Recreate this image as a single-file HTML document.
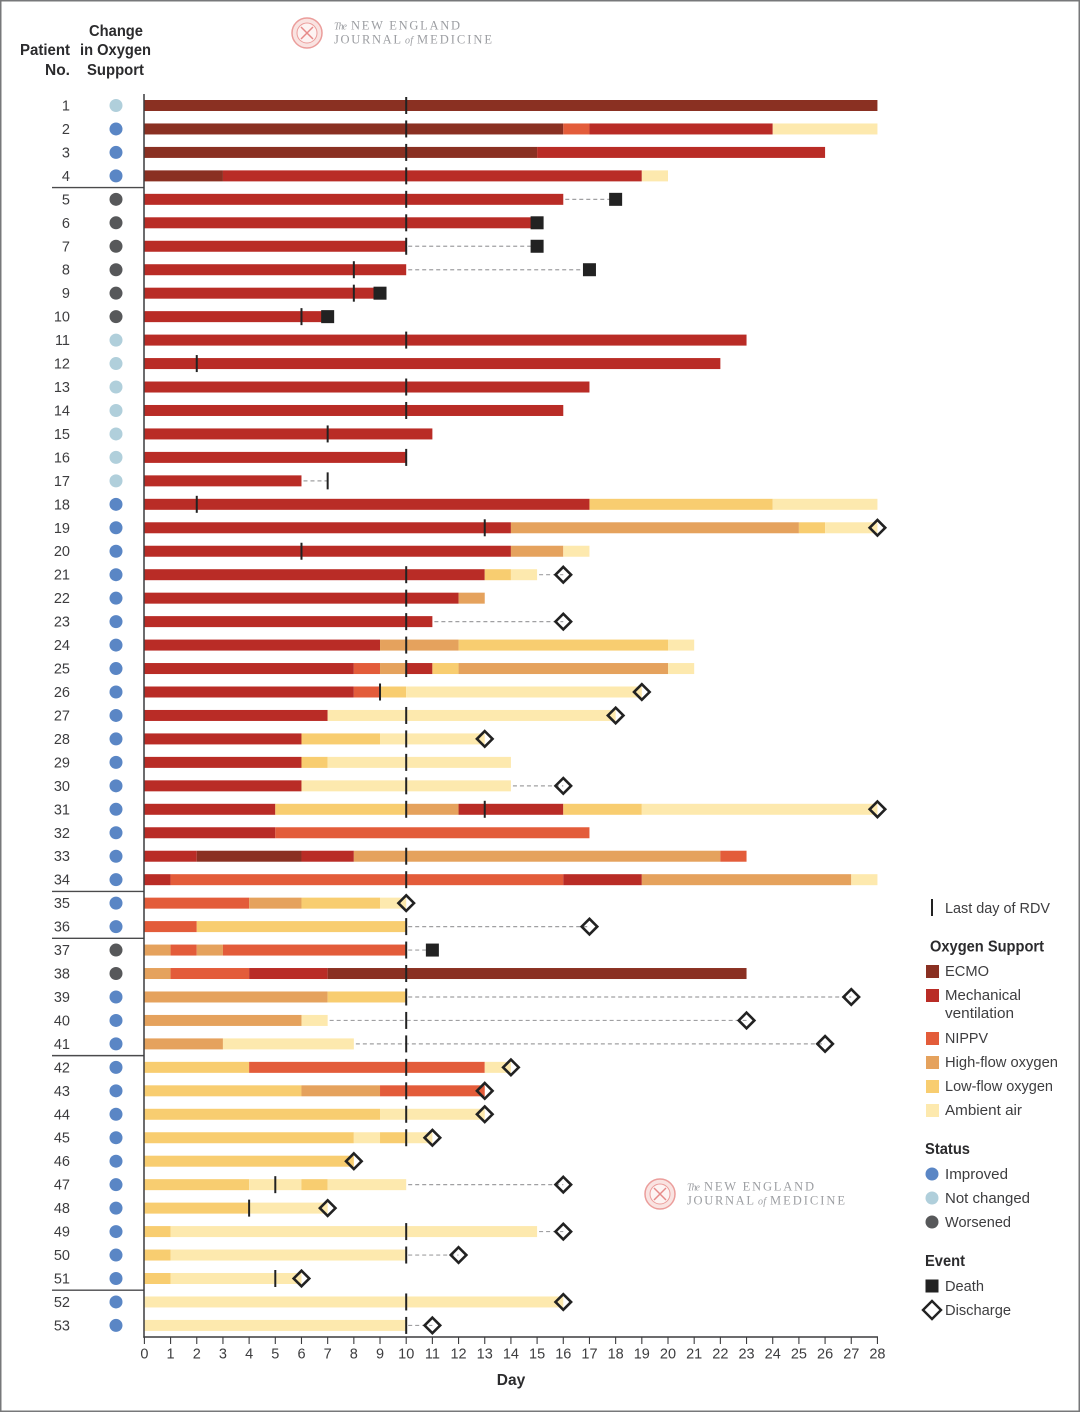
<!DOCTYPE html>
<html lang="en">
<head>
<meta charset="utf-8">
<title>Oxygen support by patient</title>
<style>
html,body{margin:0;padding:0;background:#fff;}
svg{display:block;font-family:"Liberation Sans",sans-serif;}
.lbl{font-size:14.5px;fill:#3d3d3f;}
.hd{font-size:15.5px;font-weight:bold;fill:#2b2b2d;}
.logo{font-family:"Liberation Serif",serif;fill:#9c9ea2;}
</style>
</head>
<body>
<svg id="chart" xmlns="http://www.w3.org/2000/svg" width="1080" height="1412" viewBox="0 0 1080 1412">
  <rect x="0" y="0" width="1080" height="1412" fill="#fff"/>
  <rect x="0.75" y="0.75" width="1078.5" height="1410.5" fill="none" stroke="#77787a" stroke-width="1.5"/>

  <g>
    <text class="hd" x="70" y="55" text-anchor="end" textLength="50" lengthAdjust="spacingAndGlyphs">Patient</text>
    <text class="hd" x="70" y="75" text-anchor="end" textLength="25" lengthAdjust="spacingAndGlyphs">No.</text>
    <text class="hd" x="89" y="36" textLength="54" lengthAdjust="spacingAndGlyphs">Change</text>
    <text class="hd" x="80" y="55" textLength="71" lengthAdjust="spacingAndGlyphs">in Oxygen</text>
    <text class="hd" x="87" y="75" textLength="57" lengthAdjust="spacingAndGlyphs">Support</text>
  </g>

  <g>
    <circle cx="307" cy="33" r="15" fill="#f9e3e1" stroke="#eb9d9b" stroke-width="1.5"/>
    <circle cx="307" cy="33" r="10" fill="#fdf3f2" stroke="#eb9d9b" stroke-width="1"/>
    <path d="M301 27L313 39M313 27L301 39" stroke="#e68a88" stroke-width="1.5" fill="none"/>
    <text class="logo" x="334" y="29.5" font-size="10" font-style="italic" textLength="13">The</text>
    <text class="logo" x="351" y="29.5" font-size="12.5" textLength="109">NEW ENGLAND</text>
    <text class="logo" x="334" y="43.5" font-size="12.5" textLength="67">JOURNAL</text>
    <text class="logo" x="405" y="43.5" font-size="10" font-style="italic" textLength="8">of</text>
    <text class="logo" x="417" y="43.5" font-size="12.5" textLength="75">MEDICINE</text>
  </g>
  <g>
    <circle cx="660" cy="1194" r="15" fill="#f9e3e1" stroke="#eb9d9b" stroke-width="1.5"/>
    <circle cx="660" cy="1194" r="10" fill="#fdf3f2" stroke="#eb9d9b" stroke-width="1"/>
    <path d="M654 1188L666 1200M666 1188L654 1200" stroke="#e68a88" stroke-width="1.5" fill="none"/>
    <text class="logo" x="687" y="1190.5" font-size="10" font-style="italic" textLength="13">The</text>
    <text class="logo" x="704" y="1190.5" font-size="12.5" textLength="110">NEW ENGLAND</text>
    <text class="logo" x="687" y="1204.5" font-size="12.5" textLength="67">JOURNAL</text>
    <text class="logo" x="758" y="1204.5" font-size="10" font-style="italic" textLength="8">of</text>
    <text class="logo" x="770" y="1204.5" font-size="12.5" textLength="75">MEDICINE</text>
  </g>

  <g id="rows"></g>
  <g id="axes"></g>

  <g>
    <line x1="932" x2="932" y1="899" y2="916" stroke="#222" stroke-width="2"/>
    <text class="lbl" x="945" y="913" textLength="105" lengthAdjust="spacingAndGlyphs">Last day of RDV</text>

    <text class="hd" x="930" y="951.5" textLength="114" lengthAdjust="spacingAndGlyphs">Oxygen Support</text>
    <rect x="926" y="965" width="13" height="13" fill="#8a3022"/>
    <text class="lbl" x="945" y="976" textLength="44" lengthAdjust="spacingAndGlyphs">ECMO</text>
    <rect x="926" y="989" width="13" height="13" fill="#b92c26"/>
    <text class="lbl" x="945" y="1000" textLength="76" lengthAdjust="spacingAndGlyphs">Mechanical</text>
    <text class="lbl" x="945" y="1018" textLength="69" lengthAdjust="spacingAndGlyphs">ventilation</text>
    <rect x="926" y="1032" width="13" height="13" fill="#e35c3a"/>
    <text class="lbl" x="945" y="1043" textLength="43" lengthAdjust="spacingAndGlyphs">NIPPV</text>
    <rect x="926" y="1056" width="13" height="13" fill="#e5a25d"/>
    <text class="lbl" x="945" y="1067" textLength="113" lengthAdjust="spacingAndGlyphs">High-flow oxygen</text>
    <rect x="926" y="1080" width="13" height="13" fill="#f8cd70"/>
    <text class="lbl" x="945" y="1091" textLength="108" lengthAdjust="spacingAndGlyphs">Low-flow oxygen</text>
    <rect x="926" y="1104" width="13" height="13" fill="#fde9ae"/>
    <text class="lbl" x="945" y="1115" textLength="77" lengthAdjust="spacingAndGlyphs">Ambient air</text>

    <text class="hd" x="925" y="1154" textLength="45" lengthAdjust="spacingAndGlyphs">Status</text>
    <circle cx="932" cy="1174" r="6.5" fill="#5a86c5"/>
    <text class="lbl" x="945" y="1179" textLength="63" lengthAdjust="spacingAndGlyphs">Improved</text>
    <circle cx="932" cy="1198" r="6.5" fill="#b0cfdb"/>
    <text class="lbl" x="945" y="1203" textLength="85" lengthAdjust="spacingAndGlyphs">Not changed</text>
    <circle cx="932" cy="1222" r="6.5" fill="#57585a"/>
    <text class="lbl" x="945" y="1227" textLength="66" lengthAdjust="spacingAndGlyphs">Worsened</text>

    <text class="hd" x="925" y="1266" textLength="40" lengthAdjust="spacingAndGlyphs">Event</text>
    <rect x="925.5" y="1279.5" width="13" height="13" fill="#222"/>
    <text class="lbl" x="945" y="1291" textLength="39" lengthAdjust="spacingAndGlyphs">Death</text>
    <path d="M932 1301L941 1310L932 1319L923 1310Z" fill="none" stroke="#222" stroke-width="2.4"/>
    <text class="lbl" x="945" y="1315" textLength="66" lengthAdjust="spacingAndGlyphs">Discharge</text>
  </g>
</svg>

<script>
// Oxygen support state for each stretch, per patient: E ECMO, M mechanical ventilation,
// N NIPPV, H high-flow, L low-flow, A ambient air.
var segmentSupport = [
  "E","ENMA","EM","EMA","M","M","M","M","M","M",
  "M","M","M","M","M","M","M","MLA","MHLA","MHA",
  "MLA","MH","M","MHLA","MNHMLHA","MNLA","MA","MLA","MLA","MA",
  "MLHMLA","MN","MEMHN","MNMHA","NHLA","NL","HNHN","HNME","HL","HA",
  "HA","LNA","LHN","LA","LALA","L","LALA","LA","LA","LA",
  "LA","A","A"
];
// Day on which each stretch ends.
var segmentEnds = [
  [28],[16,17,24,28],[15,26],[3,19,20],[16],[15],[10],[10],[9],[7],
  [23],[22],[17],[16],[11],[10],[6],[17,24,28],[14,25,26,28],[14,16,17],
  [13,14,15],[12,13],[11],[9,12,20,21],[8,9,10,11,12,20,21],[8,9,10,19],[7,18],[6,9,13],[6,7,14],[6,14],
  [5,10,12,16,19,28],[5,17],[2,6,8,22,23],[1,16,19,27,28],[4,6,9,10],[2,10],[1,2,3,10],[1,4,7,23],[7,10],[6,7],
  [3,8],[4,13,14],[6,9,13],[9,13],[8,9,10,11],[8],[4,6,7,10],[4,7],[1,15],[1,10],
  [1,6],[16],[10]
];
// Last day of RDV per patient (empty when not shown).
var rdvDays = [
  [10],[10],[10],[10],[10],[10],[10],[8],[8],[6],
  [10],[2],[10],[10],[7],[10],[7],[2],[13],[6],
  [10],[10],[10],[10],[10],[9],[10],[10],[10],[10],
  [10,13],[],[10],[10],[],[10],[10],[10],[10],[10],
  [10],[10],[10],[10],[10],[],[5],[4],[10],[10],
  [5],[10],[10]
];
// Change in oxygen support per patient: I improved, N not changed, W worsened.
var changeStatus = [
  "N","I","I","I","W","W","W","W","W","W",
  "N","N","N","N","N","N","N","I","I","I",
  "I","I","I","I","I","I","I","I","I","I",
  "I","I","I","I","I","I","W","W","I","I",
  "I","I","I","I","I","I","I","I","I","I",
  "I","I","I"
];
// Event per patient: D death, C discharge, - none.
var eventTypeList = [
  "-","-","-","-","D","D","D","D","D","D",
  "-","-","-","-","-","-","-","-","C","-",
  "C","-","C","-","-","C","C","C","-","C",
  "C","-","-","-","C","C","D","-","C","C",
  "C","C","C","C","C","C","C","C","C","C",
  "C","C","C"
];
var eventDays = [
  0,0,0,0,18,15,15,17,9,7,
  0,0,0,0,0,0,0,0,28,0,
  16,0,16,0,0,19,18,13,0,16,
  28,0,0,0,10,17,11,0,27,23,
  26,14,13,13,11,8,16,7,16,12,
  6,16,11
];
var dayTicks = [0,1,2,3,4,5,6,7,8,9,10,11,12,13,14,15,16,17,18,19,20,21,22,23,24,25,26,27,28];
var dividerAfterPatients = [4,34,36,41,51];

var supportColors = {E:"#8a3022",M:"#b92c26",N:"#e35c3a",H:"#e5a25d",L:"#f8cd70",A:"#fde9ae"};
var statusColors = {I:"#5a86c5",N:"#b0cfdb",W:"#57585a"};
var SVGNS = "http://www.w3.org/2000/svg";

function xScale(day){ return 144.4 + day * 26.18; }
function yScale(patient){ return 105.5 + (patient - 1) * 23.46; }
function make(parent, tag, attrs){
  var el = document.createElementNS(SVGNS, tag);
  for (var k in attrs){ el.setAttribute(k, attrs[k]); }
  parent.appendChild(el);
  return el;
}

var rowsLayer = document.getElementById("rows");
var axesLayer = document.getElementById("axes");

segmentSupport.forEach(function(codes, i){
  var patient = i + 1;
  var y = yScale(patient);
  var group = make(rowsLayer, "g", {});
  
  

  var label = make(group, "text", {x:70, y:y + 5, "text-anchor":"end", "class":"lbl"});
  
  
  label.textContent = String(patient);

  var dot = make(group, "circle", {cx:116, cy:y, r:6.5, fill:statusColors[changeStatus[i]]});
  
  

  var start = 0;
  segmentEnds[i].forEach(function(end, s){
    var seg = make(group, "rect", {
      x:xScale(start), y:y - 5.5,
      width:xScale(end) - xScale(start), height:11,
      fill:supportColors[codes.charAt(s)]
    });
    
    
    start = end;
  });
  var barEnd = start;

  var lastMark = eventDays[i];
  rdvDays[i].forEach(function(d){ if (d > lastMark) lastMark = d; });
  if (lastMark > barEnd){
    var dash = make(group, "line", {
      x1:xScale(barEnd) + 2, x2:xScale(lastMark), y1:y, y2:y,
      stroke:"#a0a0a2", "stroke-width":1.2, "stroke-dasharray":"4 3"
    });
    
    
  }

  rdvDays[i].forEach(function(d){
    var tick = make(group, "line", {
      x1:xScale(d), x2:xScale(d), y1:y - 8.5, y2:y + 8.5,
      stroke:"#222", "stroke-width":2
    });
    
    
  });

  var type = eventTypeList[i];
  var ex = xScale(eventDays[i]);
  if (type === "D"){
    var death = make(group, "rect", {x:ex - 6.5, y:y - 6.5, width:13, height:13, fill:"#222"});
    
    
  } else if (type === "C"){
    var pts = "M" + ex + " " + (y - 7.8) + "L" + (ex + 7.8) + " " + y + "L" + ex + " " + (y + 7.8) + "L" + (ex - 7.8) + " " + y + "Z";
    var backing = make(group, "path", {d:pts, fill:"#fff", "fill-opacity":0.0, stroke:"none"});
    
    
    var discharge = make(group, "path", {d:pts, fill:"none", stroke:"#222", "stroke-width":2.6});
    
    
  }
});

dividerAfterPatients.forEach(function(p){
  var yLine = (yScale(p) + yScale(p + 1)) / 2;
  var divider = make(axesLayer, "line", {x1:52, x2:144, y1:yLine, y2:yLine, stroke:"#4a4a4c", "stroke-width":1.4});
  
  
});

var yAxis = make(axesLayer, "line", {x1:144, x2:144, y1:94, y2:1337.7, stroke:"#3c3c3e", "stroke-width":1.5});


var xAxis = make(axesLayer, "line", {x1:143.3, x2:xScale(28) + 0.5, y1:1337, y2:1337, stroke:"#3c3c3e", "stroke-width":1.5});



dayTicks.forEach(function(d){
  var t = make(axesLayer, "line", {x1:xScale(d), x2:xScale(d), y1:1337, y2:1344, stroke:"#3c3c3e", "stroke-width":1.1});
  
  
  var lab = make(axesLayer, "text", {x:xScale(d), y:1358.5, "text-anchor":"middle", "class":"lbl"});
  
  
  lab.textContent = String(d);
});

var xTitle = make(axesLayer, "text", {x:511, y:1385, "text-anchor":"middle", "class":"hd"});


xTitle.textContent = "Day";
</script>
</body>
</html>
